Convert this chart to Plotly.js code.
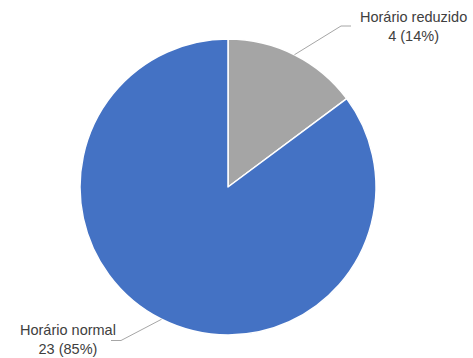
<!DOCTYPE html>
<html><head><meta charset="utf-8">
<script src="https://cdn.plot.ly/plotly-3.0.1.min.js"></script>
<style>html,body{margin:0;padding:0;background:#fff}</style>
</head><body><div id="c" style="width:473px;height:358px"></div>
<script>
const labels = ["Horário reduzido", "Horário normal"];
const values = [4, 23];
const colors = ["#a5a5a5", "#4472c4"];

const W = 473, H = 358;
const cx = 228, cy = 187, R = 148;
const total = values.reduce((a, b) => a + b, 0);

// label layout (pixels): elbow point, end of horizontal segment, text block centre
const labelGeom = [
  {elbow: [341, 26], end: [351, 26], tx: 413, ty: 26.5},
  {elbow: [121, 340.5], end: [111, 340.5], tx: 67.5, ty: 339}
];

const px = x => x / W, py = y => 1 - y / H;
const shapes = [], annotations = [];
const font = {family: "Liberation Sans, Arial, sans-serif", size: 14.5, color: "#404040"};
let cum = 0;
values.forEach((v, i) => {
  const mid = (cum + v / 2) / total * 2 * Math.PI;
  cum += v;
  const sx = cx + R * Math.sin(mid), sy = cy - R * Math.cos(mid);
  const g = labelGeom[i];
  shapes.push({
    type: "path", xref: "paper", yref: "paper",
    path: `M${px(sx)},${py(sy)} L${px(g.elbow[0])},${py(g.elbow[1])} L${px(g.end[0])},${py(g.end[1])}`,
    line: {color: "#a6a6a6", width: 1}
  });
  const pct = Math.floor(v / total * 100);
  annotations.push({
    xref: "paper", yref: "paper", x: px(g.tx), y: py(g.ty),
    xanchor: "center", yanchor: "middle", showarrow: false, align: "center",
    borderpad: 0, text: `${labels[i]}<br>${v} (${pct}%)`, font: font
  });
});

Plotly.newPlot("c", [{
  type: "pie", labels: labels, values: values, sort: false,
  direction: "clockwise", rotation: 0, textinfo: "none", hoverinfo: "none",
  marker: {colors: colors, line: {color: "#ffffff", width: 1.5}},
  domain: {x: [(cx - R) / W, (cx + R) / W], y: [1 - (cy + R) / H, 1 - (cy - R) / H]}
}], {
  width: W, height: H, margin: {l: 0, r: 0, t: 0, b: 0},
  showlegend: false, paper_bgcolor: "#fff",
  shapes: shapes, annotations: annotations
}, {staticPlot: true});
</script></body></html>
